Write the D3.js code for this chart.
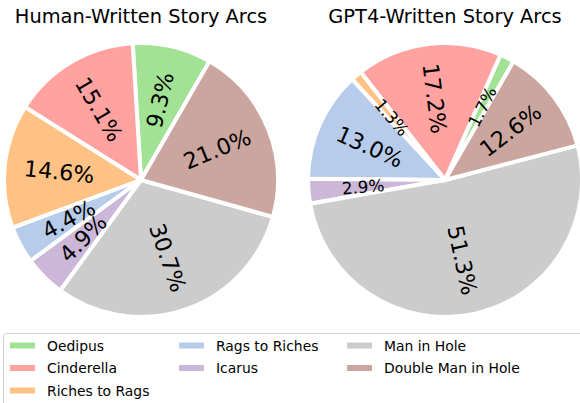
<!DOCTYPE html>
<html>
<head>
<meta charset="utf-8">
<script src="https://cdn.jsdelivr.net/npm/d3@7"></script>
<style>
  body { margin: 0; background: #fff; }
  svg { font-family: "DejaVu Sans", sans-serif; }
</style>
</head>
<body>
<svg id="chart" width="580" height="403"></svg>
<script>
// story arc categories (same order in both pies)
var arcs = ["Oedipus", "Cinderella", "Riches to Rags", "Rags to Riches", "Icarus", "Man in Hole", "Double Man in Hole"];
var arcColors = ["#98df8a", "#ff9896", "#ffbb78", "#aec7e8", "#c5b0d5", "#c7c7c7", "#c49c94"];
// percentages
var humanPct = [9.3, 15.1, 14.6, 4.4, 4.9, 30.7, 21.0];
var gptPct = [1.7, 17.2, 1.3, 13.0, 2.9, 51.3, 12.6];
var titles = ["Human-Written Story Arcs", "GPT4-Written Story Arcs"];

var svg = d3.select("#chart");
var R = 137;
var color = d3.scaleOrdinal().domain(arcs).range(arcColors);

// matplotlib-like: start at 60deg (ccw from 3 o'clock), go counterclockwise
var start = (90 - 60) * Math.PI / 180;
var pie = d3.pie().sort(null).value(function(d){ return d.v; })
  .startAngle(start).endAngle(start - 2 * Math.PI);

var arc = d3.arc().innerRadius(0).outerRadius(R);
var labelArc = d3.arc().innerRadius(R * 0.6).outerRadius(R * 0.6);

function drawPie(cx, cy, values, title){
  var g = svg.append("g").attr("transform", "translate(" + cx + "," + cy + ")");
  var data = arcs.map(function(a, i){ return {name: a, v: values[i]}; });
  var slices = pie(data);

  g.selectAll("path.slice")
    .data(slices)
    .enter().append("path")
    .attr("class", "slice")
    .attr("d", arc)
    .style("fill", function(d){ return color(d.data.name); })
    .style("fill-opacity", 0.9)
    .style("stroke", "#fff")
    .style("stroke-width", 4)
    .style("stroke-linejoin", "miter");

  g.selectAll("text.pct")
    .data(slices)
    .enter().append("text")
    .attr("class", "pct")
    .attr("text-anchor", "middle")
    .attr("dominant-baseline", "central")
    .style("font-size", function(d){ return d.data.v < 3 ? "16.7px" : "22.2px"; })
    .attr("transform", function(d){
      var c = labelArc.centroid(d);
      var mid = (d.startAngle + d.endAngle) / 2;
      var theta = 90 - mid * 180 / Math.PI; // ccw degrees from 3 o'clock
      var rot = theta;
      if (Math.cos(theta * Math.PI / 180) < 0) rot += 180;
      return "translate(" + c[0] + "," + c[1] + ")rotate(" + (-rot) + ")";
    })
    .text(function(d){ return d.data.v.toFixed(1) + "%"; });

  svg.append("text")
    .attr("x", cx)
    .attr("y", 23)
    .attr("text-anchor", "middle")
    .style("font-size", "19.4px")
    .text(title);
}

drawPie(141, 180, humanPct, titles[0]);
drawPie(445, 180, gptPct, titles[1]);

// Legend
var legend = svg.append("g");
legend.append("rect")
  .attr("x", 3.5).attr("y", 333.5)
  .attr("width", 600).attr("height", 90)
  .attr("rx", 3)
  .style("fill", "#fff")
  .style("stroke", "#d0d0d0")
  .style("stroke-width", 1);

var colX = [10, 179, 347];
var rowY = [345.5, 368, 390.5];
var perCol = [3, 2, 2];
var idx = 0;
perCol.forEach(function(n, c){
  for (var r = 0; r < n; r++){
    var name = arcs[idx++];
    legend.append("rect")
      .attr("x", colX[c]).attr("y", rowY[r] - 3)
      .attr("width", 25).attr("height", 6)
      .style("fill", color(name))
      .style("fill-opacity", 0.9);
    legend.append("text")
      .attr("x", colX[c] + 37).attr("y", rowY[r])
      .attr("dominant-baseline", "central")
      .style("font-size", "13.9px")
      .text(name);
  }
});
</script>
</body>
</html>
